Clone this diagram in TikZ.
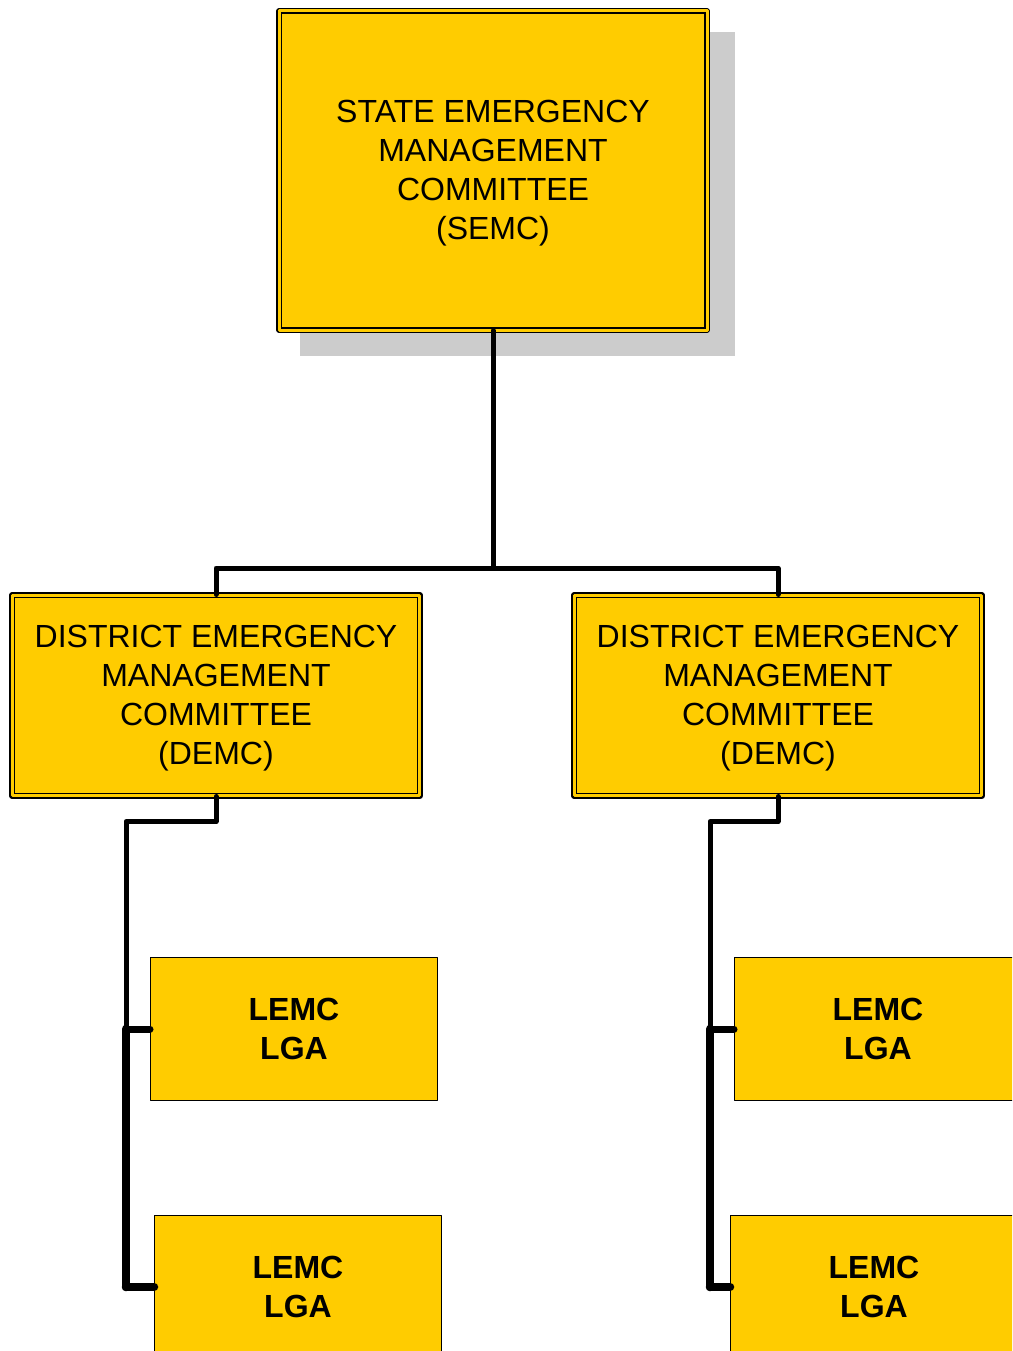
\documentclass[tikz,border=0pt]{standalone}
\usepackage{fontspec}
\setmainfont{Liberation Sans}
\usetikzlibrary{shadows}
\definecolor{boxyellow}{HTML}{FFCC00}
\definecolor{shadowgray}{HTML}{CCCCCC}
\newcommand\lowered[1]{\raisebox{-3pt}[\height][\depth]{\begin{tabular}{@{}c@{}}#1\end{tabular}}}
\begin{document}
\begin{tikzpicture}[x=1pt,y=-1pt,line join=round,line cap=round,
  committee/.style={draw,fill=boxyellow,double=boxyellow,double distance=3pt,line width=1.3pt,
    inner sep=0pt,font=\fontsize{32}{39}\selectfont},
  local node/.style={draw,fill=boxyellow,line width=1.3pt,align=center,inner sep=0pt,
    minimum width=286.7pt,minimum height=142.7pt,font=\fontsize{32}{39}\selectfont\bfseries},
  link/.style={line width=5pt},
  branch/.style={line width=7pt},
  trunk/.style={line width=8.5pt}]

  \clip (0,0) rectangle (1012,1351);

  \node[committee,minimum width=428pt,minimum height=319pt,
    drop shadow={shadow xshift=24pt,shadow yshift=-23.5pt,shadow scale=1.015,fill=shadowgray,opacity=1}]
    (0) at (493,170.5) {\lowered{STATE EMERGENCY\\MANAGEMENT\\COMMITTEE\\(SEMC)}};
  \node[committee,minimum width=407.7pt,minimum height=200.7pt] (1) at (216,695.5)
    {\lowered{DISTRICT EMERGENCY\\MANAGEMENT\\COMMITTEE\\(DEMC)}};
  \node[committee,minimum width=407.7pt,minimum height=200.7pt] (2) at (778,695.5)
    {\lowered{DISTRICT EMERGENCY\\MANAGEMENT\\COMMITTEE\\(DEMC)}};
  \node[local node] (3) at (294,1029) {LEMC\\LGA};
  \node[local node] (4) at (298,1287) {LEMC\\LGA};
  \node[local node] (5) at (878,1029) {LEMC\\LGA};
  \node[local node] (6) at (874,1287) {LEMC\\LGA};

  \coordinate (j) at (493,568);
  \coordinate (a) at (126,1029);
  \coordinate (b) at (126,1287);
  \coordinate (c) at (710,1029);
  \coordinate (d) at (710,1287);

  % state to districts
  \draw[link] (0) -- (j) -| (1);
  \draw[link] (j) -| (2);

  % districts to local committees
  \draw[link] (1.south) -- ++(0,25) -| (a);
  \draw[trunk] (a) -- (b);
  \draw[branch] (a) -- (3);
  \draw[trunk] (b) -- (4);
  \draw[link] (2.south) -- ++(0,25) -| (c);
  \draw[trunk] (c) -- (d);
  \draw[branch] (c) -- (5);
  \draw[trunk] (d) -- (6);
\end{tikzpicture}
\end{document}
